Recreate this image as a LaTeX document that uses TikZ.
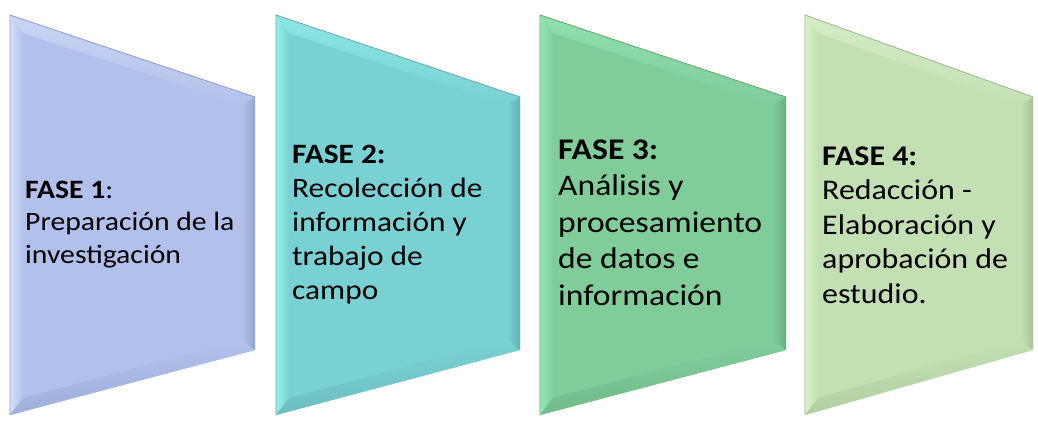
\documentclass[tikz,border=0pt]{standalone}
\usepackage{fontspec}
\newfontfamily\calfont[FakeStretch=1.12]{Carlito}
\definecolor{mainA}{HTML}{B2C1EB}\definecolor{lightA}{HTML}{D4DEF8}\definecolor{darkA}{HTML}{95A4CE}
\definecolor{mainB}{HTML}{7AD1D3}\definecolor{lightB}{HTML}{95EEEE}\definecolor{darkB}{HTML}{62B3B5}
\definecolor{mainC}{HTML}{80CD9A}\definecolor{lightC}{HTML}{96E9B4}\definecolor{darkC}{HTML}{69AF81}
\definecolor{mainD}{HTML}{C3E0B4}\definecolor{lightD}{HTML}{DAF3CD}\definecolor{darkD}{HTML}{A6C498}
\tikzset{
  phasetext/.style={anchor=base west, inner sep=0pt, text=black},
}
% #1 xl, #2 xr, #3 main, #4 light, #5 dark
\newcommand\phaseshape[5]{%
  \coordinate (A) at (#1,15);
  \coordinate (B) at (#2,97);
  \coordinate (C) at (#2,350);
  \coordinate (D) at (#1,415);
  \coordinate (Ai) at (#1+13,33);
  \coordinate (Bi) at (#2-13,105);
  \coordinate (Ci) at (#2-13,340);
  \coordinate (Di) at (#1+13,398);
  \fill[#3] (A) -- (B) -- (C) -- (D) -- cycle;
  \shade[left color=#4, right color=#3] (A) -- (Ai) -- (Di) -- (D) -- cycle;
  \shade[top color=#4!70!#3, bottom color=#3] (A) -- (B) -- (Bi) -- (Ai) -- cycle;
  \shade[left color=#3, right color=#5] (B) -- (C) -- (Ci) -- (Bi) -- cycle;
  \shade[top color=#3, bottom color=#5!60!#3] (D) -- (Di) -- (Ci) -- (C) -- cycle;
  \draw[#5!80!gray, line width=0.8pt] (D) -- (A) -- (B);
}
\begin{document}
\begin{tikzpicture}[x=1pt,y=-1pt]
  \useasboundingbox (0,0) rectangle (1038,425);
  \fill[white] (0,0) rectangle (1038,425);
  \phaseshape{10}{255}{mainA}{lightA}{darkA}
  \phaseshape{276}{520}{mainB}{lightB}{darkB}
  \phaseshape{540}{786}{mainC}{lightC}{darkC}
  \phaseshape{805}{1033}{mainD}{lightD}{darkD}
  \node[phasetext] (t1) at (25,198) {\parbox[t]{230pt}{\raggedright\calfont\fontsize{26.5}{32.5}\selectfont
    {\bfseries FASE 1}:\\Preparación de la\\investigación}};
  \node[phasetext] (t2) at (292,163) {\parbox[t]{230pt}{\raggedright\calfont\fontsize{28}{34}\selectfont
    {\bfseries FASE 2:}\\Recolección de\\información y\\trabajo de\\campo}};
  \node[phasetext] (t3) at (558,159) {\parbox[t]{230pt}{\raggedright\calfont\fontsize{30}{36.5}\selectfont
    {\bfseries FASE 3:}\\Análisis y\\procesamiento\\de datos e\\información}};
  \node[phasetext] (t4) at (822,165) {\parbox[t]{230pt}{\raggedright\calfont\fontsize{28.5}{34.5}\selectfont
    {\bfseries FASE 4:}\\Redacción -\\Elaboración y\\aprobación de\\estudio.}};
\end{tikzpicture}
\end{document}
